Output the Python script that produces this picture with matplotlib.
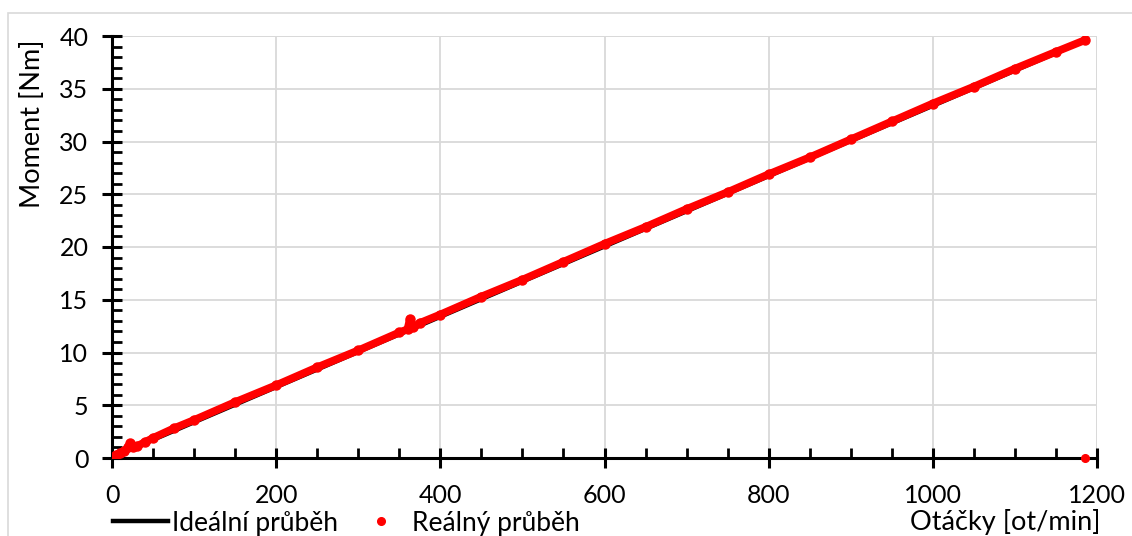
import matplotlib
matplotlib.use("Agg")
import matplotlib.pyplot as plt
from matplotlib.lines import Line2D
from matplotlib.patches import Rectangle
from matplotlib.ticker import MultipleLocator

plt.rcParams['font.family'] = ['Lato', 'DejaVu Sans']

# Ideal torque characteristic
ideal_n = [0, 1185]
ideal_m = [0.0, 39.5]

# Measured torque
real_n = [0, 5, 10, 15, 20, 22, 25, 30, 40, 50, 75, 100, 150, 200, 250, 300,
          350, 360, 363, 367, 375, 400, 450, 500, 550, 600, 650, 700, 750,
          800, 850, 900, 950, 1000, 1050, 1100, 1150, 1185]
real_m = [0.0, 0.3, 0.5, 0.7, 1.0, 1.4, 1.0, 1.1, 1.5, 1.9, 2.8, 3.6, 5.3,
          6.9, 8.6, 10.2, 11.9, 12.2, 13.2, 12.4, 12.8, 13.6, 15.3, 16.9,
          18.6, 20.3, 21.9, 23.6, 25.2, 26.9, 28.5, 30.2, 31.9, 33.6, 35.2,
          36.9, 38.5, 39.6]
# isolated reading at the end of the run
stop_n = [1185]
stop_m = [0.0]

FS_TICK = 18
FS_LABEL = 19.5
FS_LEG = 19
W, H = 1132, 536
fig = plt.figure(figsize=(W / 100, H / 100), dpi=100)
fig.patches.append(Rectangle((8 / W, -0.01), 1.2, (H - 13) / H + 0.01,
                             transform=fig.transFigure, fill=False,
                             edgecolor='#d9d9d9', linewidth=1.2))

ax = fig.add_axes([112 / W, (H - 458) / H, (1097 - 112) / W, (458 - 36) / H])

ax.plot(ideal_n, ideal_m, color='black', linewidth=2.4, zorder=3)
ax.plot(real_n, real_m, color='#ff0000', linewidth=5.6, solid_capstyle='round',
        solid_joinstyle='round', zorder=4)
ax.plot(real_n, real_m, linestyle='none', marker='o', markersize=6.5,
        color='#ff0000', zorder=4)
ax.plot(stop_n, stop_m, linestyle='none', marker='o', markersize=5.5,
        color='#ff0000', zorder=5, clip_on=False)

ax.set_xlim(0, 1200)
ax.set_ylim(0, 40)
ax.xaxis.set_major_locator(MultipleLocator(200))
ax.xaxis.set_minor_locator(MultipleLocator(50))
ax.yaxis.set_major_locator(MultipleLocator(5))
ax.yaxis.set_minor_locator(MultipleLocator(1))

ax.grid(True, which='major', color='#d9d9d9', linewidth=1.3)
ax.set_axisbelow(True)
for s in ['top', 'right']:
    ax.spines[s].set_visible(False)
for s in ['left', 'bottom']:
    ax.spines[s].set_linewidth(2.2)
    ax.spines[s].set_zorder(2)

ax.tick_params(which='major', direction='inout', length=14, width=2.2,
               labelsize=FS_TICK)
ax.tick_params(axis='y', which='major', pad=10)
ax.tick_params(axis='x', which='major', pad=12)
ax.tick_params(which='minor', direction='in', length=7, width=2)

# right/top frame in grid colour
ax.axvline(1200, color='#d9d9d9', linewidth=1.3, zorder=0)
ax.axhline(40, color='#d9d9d9', linewidth=1.3, zorder=0)

fig.text(33 / W, 1 - 124 / H, 'Moment [Nm]', rotation=90, fontsize=FS_LABEL,
         ha='center', va='center')
fig.text(1101 / W, 1 - 522 / H, 'Otáčky [ot/min]', fontsize=FS_LABEL,
         ha='right', va='center')

handles = [Line2D([], [], color='black', linewidth=3.2),
           Line2D([], [], color='#ff0000', linestyle='none', marker='o',
                  markersize=5.5)]
fig.legend(handles, ['Ideální průběh', 'Reálný průběh'], ncol=2,
           loc='center left', bbox_to_anchor=(113 / W, 1 - 523 / H),
           frameon=False, fontsize=FS_LEG, handlelength=2.1, handletextpad=0.15,
           columnspacing=0.55, borderpad=0, borderaxespad=0)

fig.savefig('out.png', dpi=100)
